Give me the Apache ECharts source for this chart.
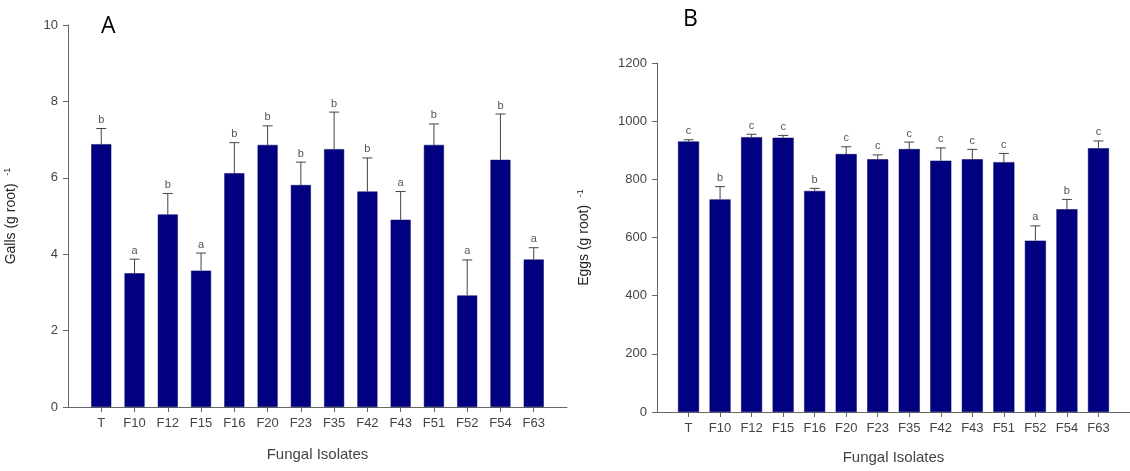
<!DOCTYPE html>
<html>
<head>
<meta charset="utf-8">
<script src="https://cdn.jsdelivr.net/npm/echarts@6/dist/echarts.min.js"></script>
<style>html,body{margin:0;padding:0;background:#fff;}#c{width:1130px;height:471px;}</style>
</head>
<body>
<div id="c"></div>
<script>
const categories = ['T','F10','F12','F15','F16','F20','F23','F35','F42','F43','F51','F52','F54','F63'];
const gallsMean = [6.88, 3.50, 5.04, 3.57, 6.12, 6.86, 5.81, 6.75, 5.64, 4.90, 6.86, 2.92, 6.47, 3.86];
const gallsSE   = [0.41, 0.37, 0.55, 0.46, 0.80, 0.50, 0.60, 0.97, 0.88, 0.74, 0.55, 0.93, 1.20, 0.31];
const gallsLetters = ['b','a','b','a','b','b','b','b','b','a','b','a','b','a'];
const eggsMean = [930, 731, 945, 943, 760, 887, 869, 904, 864, 869, 859, 589, 697, 907];
const eggsSE   = [6, 44, 10, 8, 9, 25, 15, 24, 44, 34, 30, 51, 34, 25];
const eggsLetters = ['c','b','c','c','b','c','c','c','c','c','c','a','b','c'];
const gallsTicks = [0, 2, 4, 6, 8, 10];
const eggsTicks = [0, 200, 400, 600, 800, 1000, 1200];

const idx = categories.map((_, i) => i);
const FONT = 'Liberation Sans, Arial, sans-serif';
const axisColor = '#666';
const textColor = '#444';
const barColor = '#000080';

function xAxisCfg(gridIndex, nameGap) {
  return {
    type: 'value', gridIndex, min: -1, max: 14, interval: 1,
    name: 'Fungal Isolates', nameLocation: 'middle', nameGap: nameGap,
    nameTextStyle: { fontFamily: FONT, fontSize: 15, color: textColor },
    axisLine: { show: true, onZero: false, lineStyle: { color: axisColor, width: 1 } },
    axisTick: { show: true, length: 5, customValues: idx, lineStyle: { color: axisColor } },
    axisLabel: { customValues: idx, formatter: v => categories[v] || '', margin: 10,
      fontFamily: FONT, fontSize: 13, color: textColor },
    splitLine: { show: false }
  };
}
function yAxisCfg(gridIndex, name, ticks, nameGap) {
  return {
    type: 'value', gridIndex, min: ticks[0], max: ticks[ticks.length - 1],
    interval: ticks[1] - ticks[0],
    name: '{a|' + name + '}  {s|-1}', nameLocation: 'middle', nameGap: nameGap, nameRotate: 90,
    nameTextStyle: { fontFamily: FONT, fontSize: 14, color: '#222',
      rich: { a: { fontFamily: FONT, fontSize: 14, color: '#222' },
              s: { fontFamily: FONT, fontSize: 9, color: '#222', verticalAlign: 'top', padding: [0,0,8,0] } } },
    axisLine: { show: true, onZero: false, lineStyle: { color: axisColor, width: 1 } },
    axisTick: { show: true, length: 5, inside: false, lineStyle: { color: axisColor } },
    axisLabel: { margin: 10, fontFamily: FONT, fontSize: 13, color: textColor, formatter: v => String(v) },
    splitLine: { show: false }
  };
}
function errSeries(axisIndex, means, ses, letters) {
  return {
    type: 'custom', xAxisIndex: axisIndex, yAxisIndex: axisIndex, z: 5,
    data: means.map((m, i) => [i, m, m + ses[i]]),
    renderItem: (params, api) => {
      const x = api.value(0), v = api.value(1), e = api.value(2);
      const p0 = api.coord([x, v]);
      const p1 = api.coord([x, e]);
      return { type: 'group', children: [
        { type: 'line', shape: { x1: p0[0], y1: p0[1], x2: p1[0], y2: p1[1] }, style: { stroke: '#444', lineWidth: 1 } },
        { type: 'line', shape: { x1: p1[0] - 5, y1: p1[1], x2: p1[0] + 5, y2: p1[1] }, style: { stroke: '#444', lineWidth: 1 } },
        { type: 'text', x: p1[0], y: p1[1] - 3, style: { text: letters[params.dataIndex], align: 'center', verticalAlign: 'bottom', fill: '#555', fontFamily: FONT, fontSize: 11 } }
      ] };
    }
  };
}

const chart = echarts.init(document.getElementById('c'), null, { renderer: 'canvas' });
chart.setOption({
  animation: false,
  backgroundColor: '#fff',
  grid: [
    { left: 68, top: 25, width: 499, height: 382 },
    { left: 657, top: 63, width: 484, height: 349 }
  ],
  xAxis: [xAxisCfg(0, 40), xAxisCfg(1, 38)],
  yAxis: [yAxisCfg(0, 'Galls (g root)', gallsTicks, 48), yAxisCfg(1, 'Eggs (g root)', eggsTicks, 64)],
  graphic: [
    { type: 'text', left: 101, top: 15, style: { text: 'A', fontFamily: 'Open Sans, sans-serif', fontSize: 23, fill: '#000' } },
    { type: 'text', left: 683, top: 8, style: { text: 'B', fontFamily: 'Open Sans, sans-serif', fontSize: 23, fill: '#000' } }
  ],
  series: [
    { type: 'bar', xAxisIndex: 0, yAxisIndex: 0, barWidth: 20, data: gallsMean.map((m, i) => [i, m]),
      itemStyle: { color: barColor, borderColor: '#00005a', borderWidth: 0.5 } },
    { type: 'bar', xAxisIndex: 1, yAxisIndex: 1, barWidth: 21, data: eggsMean.map((m, i) => [i, m]),
      itemStyle: { color: barColor, borderColor: '#00005a', borderWidth: 0.5 } },
    errSeries(0, gallsMean, gallsSE, gallsLetters),
    errSeries(1, eggsMean, eggsSE, eggsLetters)
  ]
});
</script>
</body>
</html>
